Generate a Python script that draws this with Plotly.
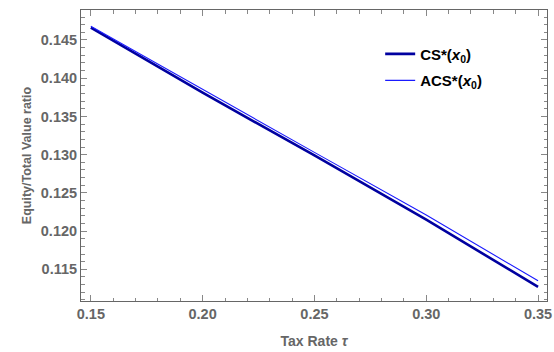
import plotly.graph_objects as go

tau = [0.15, 0.20, 0.25, 0.30, 0.35]
cs = [0.1466, 0.1381, 0.1299, 0.1215, 0.1127]
acs = [0.1468, 0.1385, 0.1303, 0.1221, 0.1135]
names = ["<b>CS*(<i>x</i></b><sub><b>0</b></sub><b>)</b>",
         "<b>ACS*(<i>x</i></b><sub><b>0</b></sub><b>)</b>"]

gray = "#666666"
fig = go.Figure()
fig.add_trace(go.Scatter(x=tau, y=cs, mode="lines", name=names[0],
                         line=dict(color="#0000a0", width=2.6), legendgroup="a"))
fig.add_trace(go.Scatter(x=tau, y=acs, mode="lines", name=names[1],
                         line=dict(color="#1a1aff", width=1.1), legendgroup="b"))

axis_common = dict(showline=True, linecolor=gray, linewidth=1, mirror="ticks",
                   ticks="inside", tickcolor="#888888", showgrid=False, zeroline=False,
                   ticklabeloverflow="allow",
                   tickfont=dict(family="Liberation Sans", size=14.5, color=gray, weight="bold"))

fig.update_xaxes(range=[0.1456, 0.354], tickvals=[0.15, 0.20, 0.25, 0.30, 0.35],
                 tickformat=".2f", ticklen=6,
                 minor=dict(dtick=0.01, ticks="inside", ticklen=3.5, tickcolor="#888888"),
                 title=dict(text="<b>Tax Rate <i>τ</i></b>", standoff=14,
                            font=dict(family="Liberation Sans", size=14, color=gray)),
                 **axis_common)
fig.update_yaxes(range=[0.11086, 0.14892], tickvals=[0.115, 0.120, 0.125, 0.130, 0.135, 0.140, 0.145],
                 tickformat=".3f", ticklen=6,
                 minor=dict(dtick=0.001, ticks="inside", ticklen=3.5, tickcolor="#888888"),
                 title=dict(text="<b>Equity/Total Value ratio</b>", standoff=6,
                            font=dict(family="Liberation Sans", size=12.5, color=gray)),
                 **axis_common)

fig.update_layout(width=554, height=352, margin=dict(l=81, r=2, t=10, b=51),
                  paper_bgcolor="white", plot_bgcolor="white",
                  legend=dict(x=0.642, y=0.905, xanchor="left", yanchor="top",
                              itemwidth=30, tracegroupgap=4,
                              font=dict(family="Liberation Sans", size=15, color="black"),
                              bgcolor="rgba(0,0,0,0)"))

fig.write_html("out.html")
